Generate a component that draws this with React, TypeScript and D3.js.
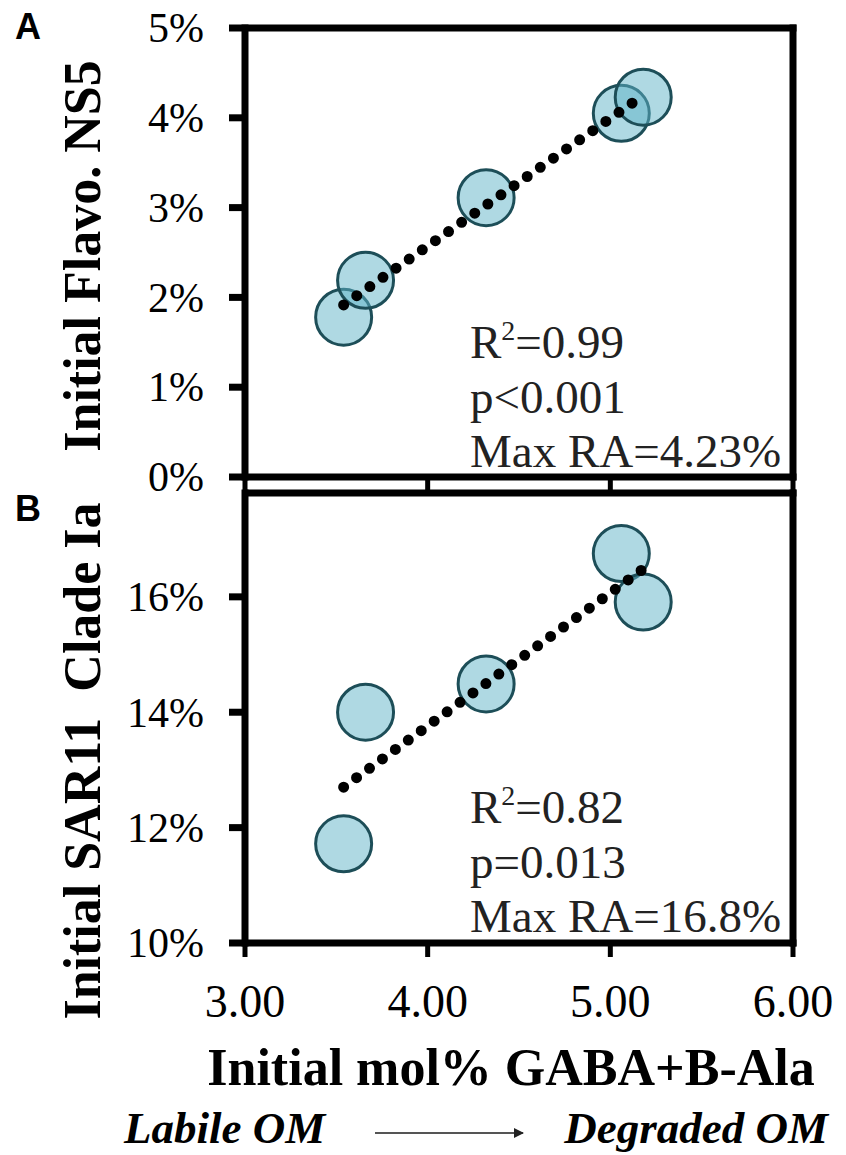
import React, { useEffect, useRef } from 'react';
import * as d3 from 'd3';

// values
const gabaAla = [3.54, 3.66, 4.32, 5.06, 5.18];
const flavoNS5 = [0.0178, 0.0219, 0.0311, 0.0405, 0.0423];
const sar11 = [0.1172, 0.14, 0.1449, 0.1675, 0.1591];

const xTicks = [3, 4, 5, 6];
const flavoTicks = [0, 0.01, 0.02, 0.03, 0.04, 0.05];
const sarTicks = [0.1, 0.12, 0.14, 0.16];

const statsA = ['0.99', 'p<0.001', 'Max RA=4.23%'];
const statsB = ['0.82', 'p=0.013', 'Max RA=16.8%'];

const W = 846;
const H = 1155;
const serif = '"Liberation Serif", "Times New Roman", serif';

const App = () => {
  const ref = useRef<SVGSVGElement>(null);

  useEffect(() => {
    const svg = d3.select(ref.current);
    svg.selectAll('*').remove();

    const x = d3.scaleLinear().domain([3, 6]).range([245, 793]);
    const yA = d3.scaleLinear().domain([0, 0.05]).range([477, 28]);
    const yB = d3.scaleLinear().domain([0.1, 0.178]).range([943, 493]);

    const fit = (xs: number[], ys: number[]) => {
      const mx = d3.mean(xs)!;
      const my = d3.mean(ys)!;
      const sxy = d3.sum(xs, (v, i) => (v - mx) * (ys[i] - my));
      const sxx = d3.sum(xs, v => (v - mx) * (v - mx));
      const b = sxy / sxx;
      return (v: number) => my + b * (v - mx);
    };

    const panel = (y: d3.ScaleLinear<number, number>, vals: number[], ticks: number[], fmt: (d: number) => string) => {
      const g = svg.append('g');

      // points
      g.selectAll('circle')
        .data(vals)
        .enter()
        .append('circle')
        .attr('cx', (d, i) => x(gabaAla[i]))
        .attr('cy', d => y(d))
        .attr('r', 28)
        .attr('fill', '#5fb4c8')
        .attr('fill-opacity', 0.5)
        .attr('stroke', '#1d4e58')
        .attr('stroke-width', 3);

      // dotted linear trendline
      const f = fit(gabaAla, vals);
      const [x0, x1] = d3.extent(gabaAla) as [number, number];
      g.append('line')
        .attr('x1', x(x0))
        .attr('y1', y(f(x0)))
        .attr('x2', x(x1))
        .attr('y2', y(f(x1)))
        .attr('stroke', '#000')
        .attr('stroke-width', 11)
        .attr('stroke-linecap', 'round')
        .attr('stroke-dasharray', '0 16');

      // y axis ticks + labels
      g.selectAll('.ytick')
        .data(ticks)
        .enter()
        .append('line')
        .attr('x1', 229)
        .attr('x2', x(3))
        .attr('y1', d => y(d))
        .attr('y2', d => y(d))
        .attr('stroke', '#000')
        .attr('stroke-width', 7);

      g.selectAll('.ylab')
        .data(ticks)
        .enter()
        .append('text')
        .attr('x', 204)
        .attr('y', d => y(d))
        .attr('dy', '0.34em')
        .attr('text-anchor', 'end')
        .attr('font-family', serif)
        .attr('font-size', 42)
        .text(fmt);

      return g;
    };

    const pct = (d: number) => `${Math.round(d * 100)}%`;
    panel(yA, flavoNS5, flavoTicks, pct);
    panel(yB, sar11, sarTicks, pct);

    // frames
    const frame = svg.append('g').attr('stroke', '#000').attr('stroke-width', 7).attr('fill', 'none');
    frame.append('line').attr('x1', x(3)).attr('x2', x(6) + 3.5).attr('y1', yA(0.05)).attr('y2', yA(0.05));
    frame.append('line').attr('x1', x(3)).attr('x2', x(6) + 3.5).attr('y1', yA(0)).attr('y2', yA(0));
    frame.append('line').attr('x1', x(3)).attr('x2', x(6) + 3.5).attr('y1', yB(0.178)).attr('y2', yB(0.178));
    frame.append('line').attr('x1', x(3)).attr('x2', x(6) + 3.5).attr('y1', yB(0.1)).attr('y2', yB(0.1));
    [yA, yB].forEach(y => {
      const [b, t] = y.range();
      frame.append('line').attr('x1', x(3)).attr('x2', x(3)).attr('y1', b + 3.5).attr('y2', t - 3.5);
      frame.append('line').attr('x1', x(6)).attr('x2', x(6)).attr('y1', b + 3.5).attr('y2', t - 3.5);
    });

    // x ticks below each panel
    frame.selectAll('.xtA')
      .data(xTicks)
      .enter()
      .append('line')
      .attr('x1', d => x(d))
      .attr('x2', d => x(d))
      .attr('y1', yA(0))
      .attr('y2', yB(0.178))
      .attr('stroke-width', 5);
    frame.selectAll('.xtB')
      .data(xTicks)
      .enter()
      .append('line')
      .attr('x1', d => x(d))
      .attr('x2', d => x(d))
      .attr('y1', yB(0.1))
      .attr('y2', yB(0.1) + 14)
      .attr('stroke-width', 5);

    svg.selectAll('.xlab')
      .data(xTicks)
      .enter()
      .append('text')
      .attr('x', d => x(d))
      .attr('y', 1017)
      .attr('text-anchor', 'middle')
      .attr('font-family', serif)
      .attr('font-size', 46)
      .text(d => d3.format('.2f')(d));

    // stats text
    const stats = (lines: string[], y0: number) => {
      const t = svg.append('text')
        .attr('font-family', serif)
        .attr('font-size', 47)
        .attr('fill', '#222');
      const first = t.append('tspan').attr('x', 470).attr('y', y0);
      first.append('tspan').text('R');
      first.append('tspan').attr('font-size', 28).attr('dy', -18).text('2');
      first.append('tspan').attr('dy', 18).text('=' + lines[0]);
      t.append('tspan').attr('x', 470).attr('y', y0 + 55).text(lines[1]);
      t.append('tspan').attr('x', 470).attr('y', y0 + 109).text(lines[2]);
    };
    stats(statsA, 358);
    stats(statsB, 823);

    // axis titles
    const yTitle = (label: string, cy: number) => {
      svg.append('text')
        .attr('transform', `translate(100, ${cy}) rotate(-90)`)
        .attr('text-anchor', 'middle')
        .attr('font-family', serif)
        .attr('font-weight', 'bold')
        .attr('font-size', 52)
        .style('white-space', 'pre')
        .text(label);
    };
    yTitle('Initial Flavo. NS5', 256);
    yTitle('Initial SAR11  Clade Ia', 761);

    svg.append('text')
      .attr('x', 511)
      .attr('y', 1085)
      .attr('text-anchor', 'middle')
      .attr('font-family', serif)
      .attr('font-weight', 'bold')
      .attr('font-size', 52)
      .text('Initial mol% GABA+B-Ala');

    const italic = (label: string, xx: number, anchor: string) => {
      svg.append('text')
        .attr('x', xx)
        .attr('y', 1143)
        .attr('text-anchor', anchor)
        .attr('font-family', serif)
        .attr('font-weight', 'bold')
        .attr('font-style', 'italic')
        .attr('font-size', 45)
        .text(label);
    };
    italic('Labile OM', 124, 'start');
    italic('Degraded OM', 828, 'end');

    const defs = svg.append('defs');
    defs.append('marker')
      .attr('id', 'arrow')
      .attr('viewBox', '0 0 10 10')
      .attr('refX', 9)
      .attr('refY', 5)
      .attr('markerWidth', 5)
      .attr('markerHeight', 5)
      .attr('orient', 'auto')
      .append('path')
      .attr('d', 'M0,0L10,5L0,10z')
      .attr('fill', '#222');
    svg.append('line')
      .attr('x1', 375)
      .attr('x2', 523)
      .attr('y1', 1133)
      .attr('y2', 1133)
      .attr('stroke', '#555')
      .attr('stroke-width', 2)
      .attr('marker-end', 'url(#arrow)');

    // panel letters
    [['A', 39], ['B', 521]].forEach(([l, yy]) => {
      svg.append('text')
        .attr('x', 15)
        .attr('y', yy)
        .attr('font-family', '"Liberation Sans", Arial, sans-serif')
        .attr('font-weight', 'bold')
        .attr('font-size', 36)
        .text(l as string);
    });
  }, []);

  return (
    <div style={{ position: 'absolute', left: 0, top: 0 }}>
      <svg ref={ref} width={W} height={H} style={{ display: 'block', background: '#fff' }}></svg>
    </div>
  );
};

export default App;
